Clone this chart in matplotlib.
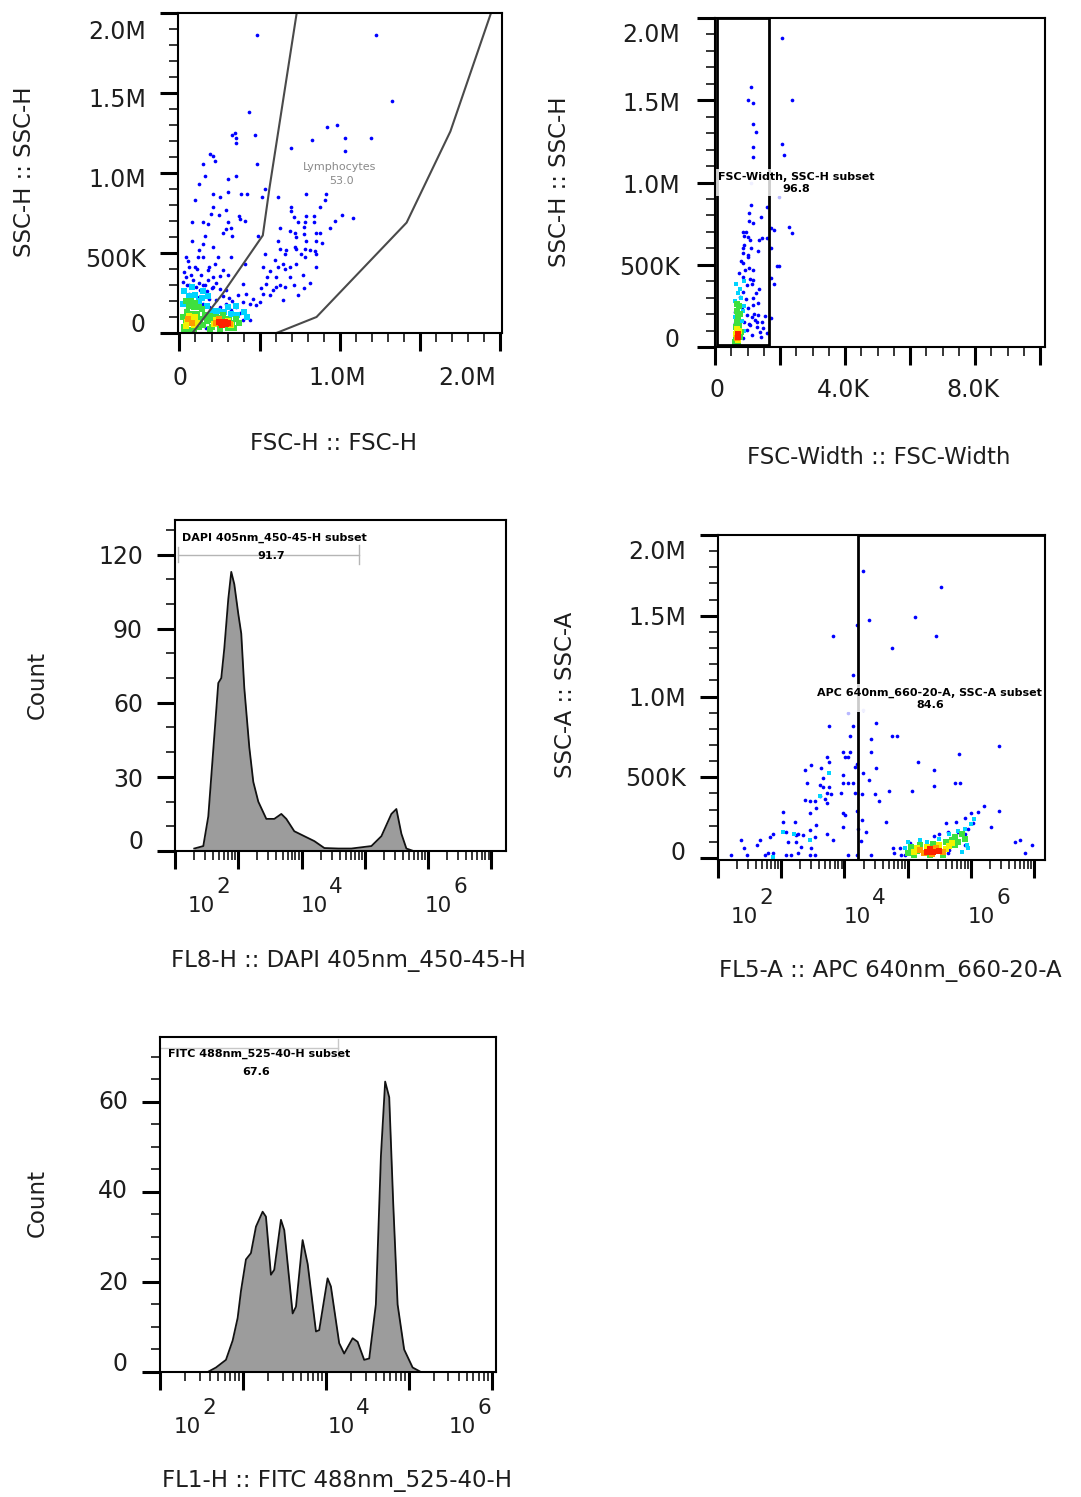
import numpy as np
import matplotlib
matplotlib.use("Agg")
import matplotlib.pyplot as plt
from matplotlib.transforms import blended_transform_factory, ScaledTranslation
from matplotlib.ticker import FixedLocator, NullFormatter
from matplotlib.patches import Polygon, Rectangle

plt.rcParams['font.family'] = ['DejaVu Sans']

# ---------------- data ----------------
# Panel 1: FSC-H vs SSC-H (values in thousands)
P1_BLUE = [(483,1865),(1229,1865),(1327,1447),(433,1381),(469,1236),(329,1240),(344,1250),(354,1219),
           (354,1188),(923,1285),(985,1298),(1035,1219),(1196,1219),(827,1205),(694,1157),(1035,1136),
           (192,1120),(208,1105),(223,1074),(146,1058),(483,1058),(160,981),(354,981),(306,960),(125,929),
           (535,898),(792,867),(917,867),(208,867),(256,847),(385,867),(421,867),(306,882),(517,847),
           (614,847),(94,832),(906,832),(875,785),(694,785),(698,760),(208,785),(244,739),(194,743),
           (292,768),(792,733),(839,733),(839,691),(1017,739),(1083,718),(971,702),(712,722),(740,691),
           (781,691),(79,691),(146,691),(177,681),(369,733),(375,712),(406,702),(306,691),(271,625),
           (292,650),(323,656),(327,609),(629,654),(687,640),(777,660),(777,619),(854,625),(875,625),
           (937,654),(160,609),(490,609),(719,623),(729,598),(792,578),(854,573),(889,561),(79,578),
           (208,536),(146,557),(125,520),(614,578),(625,526),(667,520),(719,536),(729,526),(781,526),
           (812,520),(535,495),(656,495),(760,495),(844,515),(854,495),(42,478),(115,474),(146,478),
           (240,478),(323,478),(406,433),(596,457),(646,433),(729,433),(781,474),(854,412),(62,412),
           (94,412),(177,395),(187,412),(219,433),(271,395),(521,412),(562,387),(614,412),(656,402),
           (687,412),(546,350),(604,350),(687,350),(771,360),(812,313),(42,350),(135,360),(208,350),
           (250,354),(302,360),(542,308),(625,298),(656,288),(714,298),(777,284),(62,298),(104,288),
           (146,298),(208,288),(250,277),(292,267),(396,308),(510,284),(583,267),(604,288),(740,236),
           (646,209),(458,215),(521,246),(562,236),(417,246),(365,236),(312,221),(479,174),(500,195),
           (437,184),(396,195),(354,164),(323,143),(375,122),(417,101),(281,101),(240,91),(208,50),
           (62,246),(125,226),(187,215),(229,205),(52,195),(94,184),(146,184),(187,164),(250,164),
           (292,184),(42,143),(62,101),(42,81),(31,50),(31,19),(167,29),(250,29),(292,50),(354,81),
           (396,81),(437,81),(20,320),(45,300),(85,330),(120,310),(160,300),(200,280),(30,380),
           (70,360),(110,400),(55,450),(180,330),(230,310),(270,230),(330,200),(170,260),(130,270)]
P1_CYAN = [(30,260),(60,230),(100,240),(140,220),(25,180),(170,170),(200,135),(240,140),(280,130),
           (320,120),(360,110),(400,130),(80,285),(120,200),(350,170),(300,165),(180,230),(420,100),(150,260)]
P1_GREEN = [(30,40),(40,80),(50,130),(60,170),(70,60),(80,120),(90,160),(100,70),(110,120),(120,40),
            (130,90),(140,150),(150,50),(160,110),(40,200),(70,200),(100,190),(175,75),(190,105),(200,40),
            (210,80),(230,100),(250,95),(270,110),(290,90),(310,80),(330,65),(350,90),(370,60),(190,25),
            (300,30),(340,30),(20,100),(120,160),(30,15),(60,20),(90,25),(250,25)]
P1_YELLOW = [(50,70),(60,105),(75,85),(90,50),(100,100),(40,45),(215,55),(225,80),(320,48),(300,75),(110,60)]
P1_ORANGE = [(230,62),(315,58),(245,85),(55,90),(80,65)]
P1_RED = [(245,68),(260,62),(275,58),(290,55),(305,60),(265,48),(285,70)]
# Lymphocytes gate (K)
P1_GATE_X = [73, 270, 520, 562, 729, 762, 2010, 1940, 1690, 1417, 855, 580]
P1_GATE_Y = [-10, 246, 610, 909, 1985, 2200, 2200, 1990, 1260, 690, 100, -10]

# Panel 2: FSC-Width vs SSC-H (K)
P2_BLUE = [(2052,1876),(1098,1578),(1026,1501),(1180,1481),(2380,1501),(1180,1355),(1262,1309),
           (1180,1218),(1180,1153),(2052,1232),(2134,1167),(1590,853),(1108,863),(1047,812),(1405,788),
           (1057,768),(1180,756),(1713,721),(1816,711),(2288,727),(2380,695),(893,675),(1026,671),
           (1077,650),(1365,650),(1436,660),(1590,660),(1724,600),(872,569),(1334,585),(1026,549),
           (852,509),(924,468),(1180,468),(1898,492),(1980,492),(852,427),(1077,411),(1180,407),
           (1713,417),(1816,381),(975,377),(872,336),(1365,350),(770,306),(1180,296),(1334,269),
           (667,265),(821,245),(1026,235),(1180,255),(616,215),(975,194),(1128,184),(1334,194),
           (1539,188),(1724,174),(1231,164),(1436,154),(1077,134),(1282,124),(1487,113),(1590,83),
           (1385,93),(975,103),(872,53),(616,144),(667,93),(900,620),(950,700),(1000,560),(1050,480),
           (1100,600),(1150,380),(950,290),(1250,330),(1300,150),(1400,60),(1150,70),(1050,140),
           (900,150),(1200,200),(850,600),(870,700),(800,520),(750,450)]
P2_FAINT = [(1098,995),(1970,914)]
P2_CYAN = [(620,280),(800,300),(850,220),(780,350),(700,330),(820,160),(620,180),(880,100),
           (900,400),(650,380),(900,250)]
P2_GREEN = [(650,50),(680,150),(720,180),(750,130),(760,60),(640,120),(690,220),(740,250),(670,260),
            (780,200),(800,90),(630,30),(700,10)]
P2_YELLOW = [(690,110),(730,100),(700,40),(660,80)]
P2_ORANGE = [(710,70),(680,55)]
P2_RED = [(700,80),(720,60)]
P2_GATE = (60, 1660, 12, 2000)   # xmin, xmax, ymin, ymax

# Panel 3: DAPI histogram (log10 intensity, count)
DAPI_LOG = [1.304,1.447,1.526,1.605,1.684,1.731,1.779,1.842,1.889,1.937,2.000,2.047,2.095,2.174,2.237,
            2.316,2.443,2.569,2.680,2.759,2.885,3.043,3.202,3.360,3.581,3.787,4.103,4.261,4.419,4.498,
            4.577,4.656,4.767]
DAPI_COUNT = [1,2,14,41,68,70,82,102,113,108,96,88,66,42,28,20,13,13,15,13,8,6,4,1.2,1,1,2,6,15,17,7,1,0]
DAPI_GATE = (1.05, 3.91, 120)

# Panel 4: APC (log10) vs SSC-A (K)
P4_BLUE = [(3.30,1778),(4.53,1679),(3.39,1474),(4.12,1490),(4.45,1377),(2.82,1377),(3.19,1443),(3.75,1299),
           (3.13,1136),(3.50,836),(2.76,817),(3.13,817),(3.75,753),(3.83,753),(3.09,753),(3.42,735),
           (5.44,692),(2.97,657),(3.08,657),(3.42,657),(3.01,626),(3.05,626),(2.73,626),(2.76,593),
           (4.16,595),(4.81,642),(2.47,574),(2.37,547),(2.63,558),(3.16,564),(3.19,584),(2.97,512),
           (3.30,529),(3.50,560),(4.41,547),(3.39,482),(3.13,465),(2.97,465),(3.05,465),(2.40,465),
           (2.66,498),(2.61,451),(2.66,440),(2.76,440),(2.73,405),(2.79,399),(2.95,405),(2.62,383),
           (2.69,368),(2.72,338),(2.37,358),(2.45,354),(2.53,354),(2.55,307),(2.46,276),(3.16,403),
           (3.28,399),(3.48,399),(3.55,354),(3.71,416),(4.07,416),(4.41,447),(4.74,465),(4.82,465),
           (2.97,280),(3.01,265),(3.19,290),(3.66,222),(3.28,235),(3.34,163),(2.97,193),(2.82,111),
           (2.73,148),(2.55,204),(2.45,173),(2.34,142),(2.26,148),(2.21,224),(2.03,286),(2.03,224),
           (2.08,163),(2.11,101),(2.24,101),(2.32,66),(2.16,19),(2.08,19),(2.26,29),(2.24,142),
           (2.53,132),(1.87,148),(1.82,132),(1.66,111),(1.62,80),(1.37,111),(1.41,64),(1.21,19),
           (1.46,19),(1.74,19),(1.79,33),(1.87,33),(2.45,19),(2.53,19),(3.05,19),(3.19,19),(3.42,19),
           (2.47,64),(3.21,179),(3.26,107),(4.61,214),(4.77,224),(4.90,245),(5.00,276),(5.11,286),
           (5.21,321),(5.44,290),(5.31,193),(5.69,97),(5.77,111),(5.85,33),(5.97,80),(3.77,64),
           (3.79,33),(3.87,64),(3.89,19),(3.95,19),(4.03,91),(4.11,70),(4.42,136),(4.50,148),
           (4.63,163),(4.71,132),(4.79,163),(4.90,148),(4.95,183),(5.03,214),(4.63,29),(4.66,49),(4.90,80)]
P4_FAINT = [(3.29,914),(3.05,897)]
P4_CYAN = [(2.20,148),(2.03,163),(2.45,111),(2.61,385),(2.76,529),(1.87,5),(3.95,60),(4.0,100),(4.2,110),
           (4.5,120),(4.8,170),(4.9,180),(5.0,210),(5.05,240),(4.95,60),(4.65,150),(4.3,100),(4.85,40),(4.94,80)]
P4_GREEN = [(4.0,30),(4.05,70),(4.2,80),(4.4,90),(4.6,100),(4.7,110),(4.75,130),(4.85,150),(4.1,20),
            (4.35,20),(4.55,20),(4.75,80),(4.8,100),(4.9,120),(4.15,45)]
P4_YELLOW = [(4.1,40),(4.6,55),(4.65,75),(4.3,70),(4.5,80),(4.15,60),(4.7,95)]
P4_ORANGE = [(4.25,30),(4.55,35),(4.45,60),(4.2,50),(4.38,28)]
P4_RED = [(4.3,40),(4.4,35),(4.5,45),(4.35,55)]
P4_GATE_X = 3.22

# Panel 5: FITC histogram (log10 intensity, count)
FITC_LOG = [1.575,1.675,1.795,1.876,1.936,1.976,2.036,2.096,2.157,2.237,2.277,2.337,2.377,2.458,2.498,
            2.599,2.639,2.719,2.780,2.880,2.919,3.020,3.060,3.160,3.220,3.322,3.382,3.461,3.522,3.602,
            3.663,3.714,3.763,3.811,3.864,3.943,4.045,4.145]
FITC_COUNT = [0,1,2.7,7,12,18,25,26.4,32.3,35.6,34.5,21.6,22.7,33.8,31.5,13,14.5,29.3,24,9,9.3,20.8,19,
              6.4,4.1,7.5,6.7,2.7,3,15,48,64.5,61,37.5,15,5,1,0]
FITC_GATE = (1.01, 3.14, 72)

# ---------------- figure ----------------
W, H, DPI = 1081, 1497, 100
fig = plt.figure(figsize=(W / DPI, H / DPI), dpi=DPI)
TXT = '#1e1e1e'
TICK_FS = 17
EXP_FS = 15.5
GATE_FS = 8
CAP = TICK_FS * DPI / 72 * 0.729
CAP_E = EXP_FS * DPI / 72 * 0.729
COLORS = {'blue': '#0000ff', 'faint': '#b8b8ff', 'cyan': '#00d4ff', 'green': '#3ee03e',
          'yellow': '#f2f200', 'orange': '#ff9a00', 'red': '#ff2000'}


def add_ax(x0, y0, x1, y1):
    return fig.add_axes([x0 / W, 1 - y1 / H, (x1 - x0) / W, (y1 - y0) / H])


def off(dx, dy):
    return ScaledTranslation(dx / DPI, -dy / DPI, fig.dpi_scale_trans)


def frame(ax, xmaj, xmin, ymaj, ymin):
    for s in ax.spines.values():
        s.set_linewidth(1.5)
        s.set_color('black')
        s.set_zorder(5)
    ax.xaxis.set_major_locator(FixedLocator(xmaj))
    ax.xaxis.set_minor_locator(FixedLocator(xmin))
    ax.yaxis.set_major_locator(FixedLocator(ymaj))
    ax.yaxis.set_minor_locator(FixedLocator(ymin))
    for a in (ax.xaxis, ax.yaxis):
        a.set_major_formatter(NullFormatter())
        a.set_minor_formatter(NullFormatter())
    ax.tick_params(which='major', direction='out', length=13, width=2.2, color='black',
                   top=False, right=False)
    ax.tick_params(which='minor', direction='out', length=6.5, width=1.1, color='black',
                   top=False, right=False)


def log_minor(lo, hi):
    out = []
    for d in range(0, 8):
        for k in range(2, 10):
            v = d + np.log10(k)
            if lo <= v <= hi:
                out.append(v)
    return out


def ylabels(ax, vals, texts, dys, dx=32):
    tr0 = blended_transform_factory(ax.transAxes, ax.transData)
    for v, t, dy in zip(vals, texts, dys):
        ax.text(0, v, t, transform=tr0 + off(-dx, dy + CAP / 2), ha='right', va='baseline',
                fontsize=TICK_FS, color=TXT, clip_on=False)


def xlabels(ax, vals, texts, dxs, dy):
    tr0 = blended_transform_factory(ax.transData, ax.transAxes)
    for v, t, dx in zip(vals, texts, dxs):
        ax.text(v, 0, t, transform=tr0 + off(dx, dy + CAP / 2), ha='center', va='baseline',
                fontsize=TICK_FS, color=TXT, clip_on=False)


def loglabels(ax, vals, exps, dy):
    tr0 = blended_transform_factory(ax.transData, ax.transAxes)
    for v, e in zip(vals, exps):
        ax.text(v, 0, '10', transform=tr0 + off(0, dy + CAP_E / 2), ha='center', va='baseline',
                fontsize=EXP_FS, color=TXT, clip_on=False)
        ax.text(v, 0, e, transform=tr0 + off(22, dy - 19 + CAP_E / 2), ha='center', va='baseline',
                fontsize=EXP_FS, color=TXT, clip_on=False)


def dots(ax, pts, color, size, marker='s'):
    a = np.array(pts, float)
    ax.scatter(a[:, 0], a[:, 1], s=size, c=COLORS[color], marker=marker, linewidths=0, zorder=2)


def ftext(x, y, s, rot=0):
    fig.text(x / W, 1 - y / H, s, rotation=rot, ha='center', va='center', fontsize=16.5, color=TXT)


LIN_MAJ = [0, 500, 1000, 1500, 2000]
LIN_MIN = list(range(0, 2001, 100))
Y_TXT = ['2.0M', '1.5M', '1.0M', '500K', '0']
BLUE_S = 7
DENSE_S = 14

# ---- Panel 1 ----
ax1 = add_ax(178, 13, 502, 333)
ax1.set_xlim(-9, 2012)
ax1.set_ylim(0, 2000)
frame(ax1, LIN_MAJ, LIN_MIN, LIN_MAJ, LIN_MIN)
dots(ax1, P1_BLUE, 'blue', BLUE_S, 'o')
dots(ax1, P1_CYAN, 'cyan', DENSE_S)
dots(ax1, P1_GREEN, 'green', DENSE_S + 4)
dots(ax1, P1_YELLOW, 'yellow', DENSE_S)
dots(ax1, P1_ORANGE, 'orange', DENSE_S)
dots(ax1, P1_RED, 'red', DENSE_S)
ax1.add_patch(Polygon(np.column_stack([P1_GATE_X, P1_GATE_Y]), closed=True, fill=False,
                      edgecolor='#4a4a4a', lw=1.5, zorder=3))
ax1.text(1000, 1040, 'Lymphocytes', ha='center', va='center', fontsize=8, color='#8a8a8a', zorder=4)
ax1.text(1012, 952, '53.0', ha='center', va='center', fontsize=8, color='#8a8a8a', zorder=4)
ylabels(ax1, [2000, 1500, 1000, 500, 0], Y_TXT, [17, 5, 5, 5, -10], dx=32)
xlabels(ax1, [0, 1000, 2000], ['0', '1.0M', '2.0M'], [1, -3, -33], dy=43)

# ---- Panel 2 ----
ax2 = add_ax(715, 18, 1045, 347)
ax2.set_xlim(0, 10150)
ax2.set_ylim(0, 2000)
frame(ax2, list(range(0, 10001, 2000)), list(range(0, 10001, 500)), LIN_MAJ, LIN_MIN)
dots(ax2, P2_BLUE, 'blue', BLUE_S, 'o')
dots(ax2, P2_FAINT, 'faint', BLUE_S, 'o')
dots(ax2, P2_CYAN, 'cyan', DENSE_S - 2)
dots(ax2, P2_GREEN, 'green', DENSE_S)
dots(ax2, P2_YELLOW, 'yellow', DENSE_S)
dots(ax2, P2_ORANGE, 'orange', DENSE_S)
dots(ax2, P2_RED, 'red', DENSE_S)
gx0, gx1, gy0, gy1 = P2_GATE
ax2.add_patch(Rectangle((gx0, gy0), gx1 - gx0, gy1 - gy0, fill=False, edgecolor='black', lw=2, zorder=3))
ax2.text(2490, 1000, 'FSC-Width, SSC-H subset\n96.8', ha='center', va='center', fontsize=GATE_FS,
         fontweight='bold', color='black', linespacing=1.25, zorder=4,
         bbox=dict(boxstyle='square,pad=0.25', fc='white', ec='none', alpha=0.8))
ylabels(ax2, [2000, 1500, 1000, 500, 0], Y_TXT, [15, 2, 2, 2, -9], dx=35)
xlabels(ax2, [0, 4000, 8000], ['0', '4.0K', '8.0K'], [2, -2, -2], dy=41)

# ---- Panel 3 ----
ax3 = add_ax(175, 520, 506, 851)
ax3.set_xlim(1.0, 6.23)
ax3.set_ylim(0, 134)
frame(ax3, [1, 2, 3, 4, 5, 6], log_minor(1.0, 6.23), [0, 30, 60, 90, 120], list(range(0, 131, 10)))
ax3.fill_between(DAPI_LOG, DAPI_COUNT, 0, color='#9c9c9c', lw=0, zorder=2)
ax3.plot(DAPI_LOG, DAPI_COUNT, color='#111111', lw=1.3, zorder=3)
d0, d1, dy_ = DAPI_GATE
ax3.plot([d0, d1], [dy_, dy_], color='#b5b5b5', lw=1.0, zorder=3)
ax3.plot([d0, d0], [dy_ - 3, dy_ + 3], color='#b5b5b5', lw=1.0, zorder=3)
ax3.plot([d1, d1], [dy_ - 4, dy_ + 4], color='#b5b5b5', lw=1.0, zorder=3)
ax3.text(2.57, 126.7, 'DAPI 405nm_450-45-H subset', ha='center', va='center', fontsize=GATE_FS,
         fontweight='bold', color='black', zorder=4)
ax3.text(2.52, 119.6, '91.7', ha='center', va='center', fontsize=GATE_FS, fontweight='bold',
         color='black', zorder=4)
ylabels(ax3, [120, 90, 60, 30, 0], ['120', '90', '60', '30', '0'], [1, 1, 1, 1, -11], dx=32)
loglabels(ax3, [1.415, 3.20, 5.16], ['2', '4', '6'], dy=53)

# ---- Panel 4 ----
ax4 = add_ax(718, 535, 1045, 860)
ax4.set_xlim(1.0, 6.17)
ax4.set_ylim(-12, 2000)
frame(ax4, [1, 2, 3, 4, 5, 6], log_minor(1.0, 6.17), LIN_MAJ, LIN_MIN)
dots(ax4, P4_BLUE, 'blue', BLUE_S, 'o')
dots(ax4, P4_FAINT, 'faint', BLUE_S, 'o')
dots(ax4, P4_CYAN, 'cyan', DENSE_S - 4)
dots(ax4, P4_GREEN, 'green', DENSE_S)
dots(ax4, P4_YELLOW, 'yellow', DENSE_S)
dots(ax4, P4_ORANGE, 'orange', DENSE_S)
dots(ax4, P4_RED, 'red', DENSE_S)
ax4.add_patch(Rectangle((P4_GATE_X, -12), 6.17 - P4_GATE_X, 2012, fill=False, edgecolor='black',
                        lw=2, zorder=3))
ax4.text(4.35, 988, 'APC 640nm_660-20-A, SSC-A subset\n84.6', ha='center', va='center', fontsize=GATE_FS,
         fontweight='bold', color='black', linespacing=1.25, zorder=4,
         bbox=dict(boxstyle='square,pad=0.25', fc='white', ec='none', alpha=0.8))
ylabels(ax4, [2000, 1500, 1000, 500, 0], Y_TXT, [15, 1, 1, 0, -7], dx=32)
loglabels(ax4, [1.415, 3.20, 5.16], ['2', '4', '6'], dy=55)

# ---- Panel 5 ----
ax5 = add_ax(160, 1037, 496, 1372)
ax5.set_xlim(1.0, 5.05)
ax5.set_ylim(0, 74.4)
frame(ax5, [1, 2, 3, 4, 5], log_minor(1.0, 5.05), [0, 20, 40, 60], list(range(0, 75, 5)))
ax5.fill_between(FITC_LOG, FITC_COUNT, 0, color='#9c9c9c', lw=0, zorder=2)
ax5.plot(FITC_LOG, FITC_COUNT, color='#111111', lw=1.3, zorder=3)
f0, f1, fy = FITC_GATE
ax5.plot([f0, f1], [fy, fy], color='#c8c8c8', lw=1.0, zorder=3)
ax5.plot([f1, f1], [fy - 2, fy + 2], color='#c8c8c8', lw=1.0, zorder=3)
ax5.text(2.2, 70.7, 'FITC 488nm_525-40-H subset', ha='center', va='center', fontsize=GATE_FS,
         fontweight='bold', color='black', zorder=4)
ax5.text(2.16, 66.7, '67.6', ha='center', va='center', fontsize=GATE_FS, fontweight='bold',
         color='black', zorder=4)
ylabels(ax5, [60, 40, 20, 0], ['60', '40', '20', '0'], [-1, -2, -1, -10], dx=32)
loglabels(ax5, [1.33, 3.18, 4.64], ['2', '4', '6'], dy=53)

# ---- axis titles ----
ftext(334, 443, 'FSC-H :: FSC-H')
ftext(25, 172, 'SSC-H :: SSC-H', 90)
ftext(879, 457, 'FSC-Width :: FSC-Width')
ftext(560, 182, 'SSC-H :: SSC-H', 90)
ftext(348, 960, 'FL8-H :: DAPI 405nm_450-45-H')
ftext(37, 685, 'Count', 90)
ftext(890, 970, 'FL5-A :: APC 640nm_660-20-A')
ftext(565, 695, 'SSC-A :: SSC-A', 90)
ftext(337, 1480, 'FL1-H :: FITC 488nm_525-40-H')
ftext(37, 1203, 'Count', 90)

fig.savefig('out.png', dpi=DPI, facecolor='white')
